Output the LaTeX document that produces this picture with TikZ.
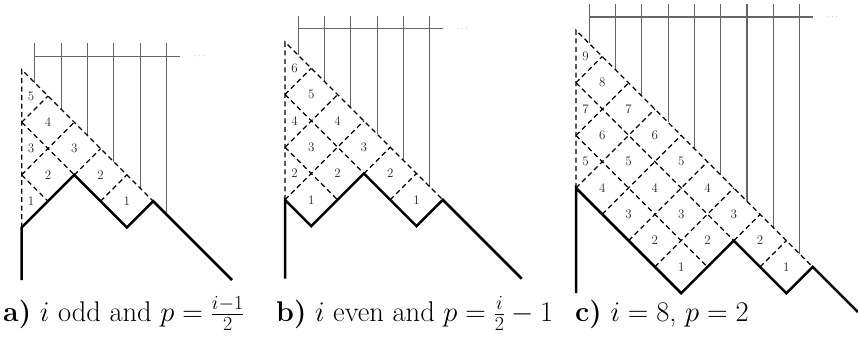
\RequirePackage{fix-cm}
\documentclass[tikz,border=0pt]{standalone}
\begin{document}
\begin{tikzpicture}[x=1pt,y=-1pt,
  bold/.style={line width=2.5pt, black},
  lat/.style={line width=1.25pt, dash pattern=on 5pt off 3.5pt, black},
  wire/.style={line width=1.1pt, black!60},
  num/.style={font=\fontsize{13}{15}\selectfont, text=black!85, inner sep=0pt},
  dotsnode/.style={font=\fontsize{9}{11}\selectfont, text=black!40, inner sep=0pt, anchor=base, yshift=-2.2pt},
  captext/.style={font=\fontsize{28.5}{32}\selectfont, inner sep=0pt, anchor=base west}]
\useasboundingbox (0,0) rectangle (858,337);

% ---------- panel a ----------
\begin{scope}[shift={(21.7,227.5)}, x=26.3pt, y=26.3pt]
  \foreach \i in {0,...,5} \draw[wire] (\i+0.5,7) -- (\i+0.5,5.5-\i);
  \draw[wire] (0.5,6.5) -- (6,6.5);
  \node[dotsnode] (adots) at (6.75,6.5) {$\cdots$};
  \draw[lat] (0,0) -- (0,6) -- (5,1);
  \draw[lat] (0,2) -- (1,1)  (0,4) -- (2,2)  (0,4) -- (1,5)  (0,2) -- (2,4)
             (2,2) -- (3,3)  (3,1) -- (4,2);
  \draw[bold] (0,-2) -- (0,0) -- (2,2) -- (4,0) -- (5,1) -- (8,-2);
  \node[num] (a1a) at (0.36,1) {1};
  \node[num] (a1b) at (4,1) {1};
  \node[num] (a2a) at (1,2) {2};
  \node[num] (a2b) at (3,2) {2};
  \node[num] (a3a) at (0.36,3) {3};
  \node[num] (a3b) at (2,3) {3};
  \node[num] (a4a) at (1,4) {4};
  \node[num] (a5a) at (0.36,5) {5};
\end{scope}

% ---------- panel b ----------
\begin{scope}[shift={(285,199.8)}, x=26.3pt, y=26.3pt]
  \foreach \i in {0,...,5} \draw[wire] (\i+0.5,7) -- (\i+0.5,5.5-\i);
  \draw[wire] (0.5,6.5) -- (6,6.5);
  \node[dotsnode] (bdots) at (6.75,6.5) {$\cdots$};
  \draw[lat] (0,0) -- (0,6) -- (6,0);
  \draw[lat] (0,2) -- (2,0)  (0,4) -- (3,1)  (0,0) -- (3,3)  (0,2) -- (2,4)
             (0,4) -- (1,5)  (3,1) -- (4,2)  (4,0) -- (5,1);
  \draw[bold] (0,-3) -- (0,0) -- (1,-1) -- (3,1) -- (5,-1) -- (6,0) -- (9,-3);
  \node[num] (b1a) at (1,0) {1};
  \node[num] (b1b) at (5,0) {1};
  \node[num] (b2a) at (0.36,1) {2};
  \node[num] (b2b) at (2,1) {2};
  \node[num] (b2c) at (4,1) {2};
  \node[num] (b3a) at (1,2) {3};
  \node[num] (b3b) at (3,2) {3};
  \node[num] (b4a) at (0.36,3) {4};
  \node[num] (b4b) at (2,3) {4};
  \node[num] (b5a) at (1,4) {5};
  \node[num] (b6a) at (0.36,5) {6};
\end{scope}

% ---------- panel c ----------
\begin{scope}[shift={(576,188)}, x=26.3pt, y=26.3pt]
  \foreach \i in {0,...,8} \draw[wire] (\i+0.5,7) -- (\i+0.5,5.5-\i);
  \draw[wire] (0.5,6.5) -- (9,6.5);
  \node[dotsnode] (cdots) at (9.75,6.5) {$\cdots$};
  \draw[lat] (0,0) -- (0,6) -- (9,-3);
  \draw[lat] (0,2) -- (5,-3)  (0,4) -- (6,-2)
             (0,4) -- (1,5)  (0,2) -- (2,4)  (0,0) -- (3,3)  (1,-1) -- (4,2)
             (2,-2) -- (5,1)  (3,-3) -- (6,0)  (6,-2) -- (7,-1)  (7,-3) -- (8,-2);
  \draw[bold] (0,-4) -- (0,0) -- (4,-4) -- (6,-2) -- (8,-4) -- (9,-3) -- (10.72,-4.72);
  \node[num] (c1a) at (4,-3) {1};
  \node[num] (c1b) at (8,-3) {1};
  \node[num] (c2a) at (3,-2) {2};
  \node[num] (c2b) at (5,-2) {2};
  \node[num] (c2c) at (7,-2) {2};
  \node[num] (c3a) at (2,-1) {3};
  \node[num] (c3b) at (4,-1) {3};
  \node[num] (c3c) at (6,-1) {3};
  \node[num] (c4a) at (1,0) {4};
  \node[num] (c4b) at (3,0) {4};
  \node[num] (c4c) at (5,0) {4};
  \node[num] (c5a) at (0.36,1) {5};
  \node[num] (c5b) at (2,1) {5};
  \node[num] (c5c) at (4,1) {5};
  \node[num] (c6a) at (1,2) {6};
  \node[num] (c6b) at (3,2) {6};
  \node[num] (c7a) at (0.36,3) {7};
  \node[num] (c7b) at (2,3) {7};
  \node[num] (c8a) at (1,4) {8};
  \node[num] (c9a) at (0.36,5) {9};
\end{scope}

% ---------- captions ----------
\node[captext] (capa) at (3,321) {\textbf{a)} $i$ odd and $p=\frac{i-1}{2}$};
\node[captext] (capb) at (276,321) {\textbf{b)} $i$ even and $p=\frac{i}{2}-1$};
\node[captext] (capc) at (575,321) {\textbf{c)} $i=8$, $p=2$};
\end{tikzpicture}
\end{document}
